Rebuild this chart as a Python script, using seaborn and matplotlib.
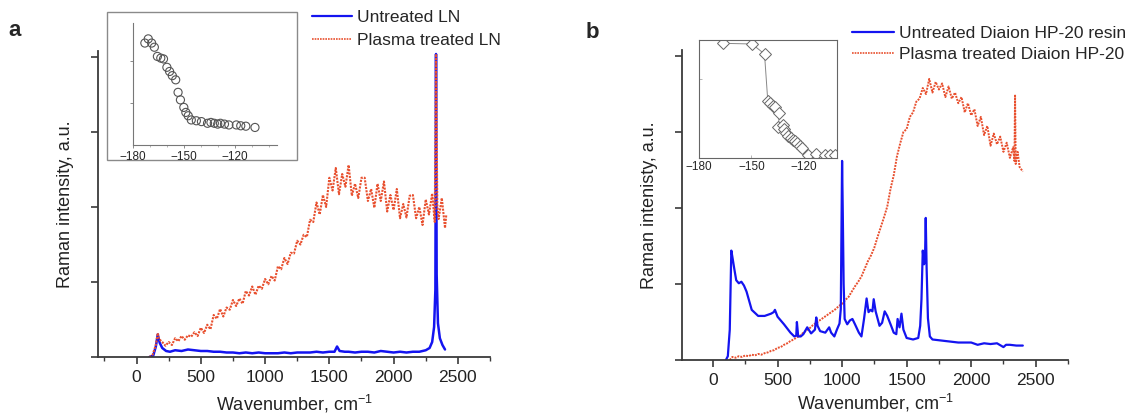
import matplotlib
matplotlib.use('Agg')
import matplotlib.pyplot as plt
import seaborn as sns
from matplotlib.patches import Rectangle
from matplotlib.ticker import MultipleLocator, FixedLocator, NullFormatter
from matplotlib.lines import Line2D

# ---------------- data: panel a ----------------
red_a_x = [100, 125, 150, 165, 175, 200, 225, 250, 275, 300,
           325, 350, 375, 400, 425, 450, 475, 500, 525, 550,
           575, 600, 625, 650, 675, 700, 725, 750, 775, 800,
           825, 850, 875, 900, 925, 950, 975, 1000, 1025, 1050,
           1075, 1100, 1125, 1150, 1175, 1200, 1225, 1250, 1275, 1300,
           1325, 1350, 1375, 1400, 1425, 1450, 1475, 1500, 1525, 1550,
           1575, 1600, 1625, 1650, 1675, 1700, 1725, 1750, 1775, 1800,
           1825, 1850, 1875, 1900, 1925, 1950, 1975, 2000, 2025, 2050,
           2075, 2100, 2125, 2150, 2175, 2200, 2225, 2250, 2275, 2300,
           2320, 2330, 2340, 2350, 2375, 2400, 2410]
red_a_y = [0.00, 0.03, 0.16, 0.32, 0.24, 0.20, 0.15, 0.20, 0.16, 0.25,
           0.21, 0.28, 0.23, 0.29, 0.27, 0.33, 0.28, 0.39, 0.32, 0.43,
           0.37, 0.56, 0.51, 0.64, 0.54, 0.66, 0.63, 0.76, 0.68, 0.78,
           0.71, 0.88, 0.82, 0.94, 0.83, 0.95, 0.91, 1.04, 0.97, 1.08,
           1.02, 1.21, 1.17, 1.32, 1.24, 1.39, 1.38, 1.55, 1.50, 1.63,
           1.60, 1.83, 1.80, 2.06, 1.90, 2.16, 2.00, 2.39, 2.22, 2.52,
           2.17, 2.44, 2.27, 2.56, 2.15, 2.31, 2.12, 2.39, 2.39, 2.08,
           2.24, 1.99, 2.31, 2.08, 2.34, 1.94, 2.16, 1.96, 2.24, 1.85,
           2.04, 1.86, 2.15, 2.16, 1.85, 2.00, 1.76, 2.10, 1.90, 2.18,
           1.80, 4.04, 2.03, 1.84, 2.12, 1.72, 1.90]

blue_a_x = [100, 130, 150, 165, 180, 200, 230, 260, 300, 350,
            400, 450, 500, 550, 600, 650, 700, 750, 800, 850,
            900, 950, 1000, 1050, 1100, 1150, 1200, 1250, 1300, 1350,
            1400, 1450, 1500, 1540, 1560, 1580, 1620, 1650, 1700, 1750,
            1800, 1850, 1900, 1950, 2000, 2050, 2100, 2150, 2200, 2250,
            2280, 2300, 2315, 2325, 2330, 2335, 2345, 2360, 2380, 2400]
blue_a_y = [0.00, 0.02, 0.14, 0.30, 0.19, 0.12, 0.08, 0.07, 0.09, 0.08,
            0.10, 0.09, 0.08, 0.08, 0.07, 0.07, 0.06, 0.06, 0.05, 0.06,
            0.05, 0.06, 0.05, 0.05, 0.05, 0.06, 0.05, 0.06, 0.06, 0.06,
            0.07, 0.06, 0.07, 0.07, 0.14, 0.08, 0.07, 0.07, 0.06, 0.07,
            0.07, 0.06, 0.08, 0.07, 0.06, 0.07, 0.06, 0.07, 0.07, 0.09,
            0.12, 0.20, 0.40, 0.90, 4.04, 1.10, 0.45, 0.25, 0.16, 0.10]

inset_a_x = [-173.0, -171.0, -169.0, -167.4, -165.6, -163.6, -162.0, -160.0, -158.4, -156.8,
             -154.8, -153.4, -152.0, -150.0, -148.8, -147.4, -145.6, -142.6, -139.6, -136.0,
             -134.0, -132.0, -130.0, -128.4, -126.0, -123.4, -119.0, -116.4, -113.4, -108.0]
inset_a_y = [2.44, 2.54, 2.44, 2.34, 2.12, 2.08, 2.06, 1.86, 1.76, 1.66,
             1.56, 1.26, 1.08, 0.90, 0.78, 0.70, 0.60, 0.58, 0.56, 0.52,
             0.54, 0.52, 0.50, 0.52, 0.50, 0.48, 0.48, 0.46, 0.45, 0.42]

# ---------------- data: panel b ----------------
blue_b_x = [100, 115, 130, 142, 150, 165, 180, 200, 220, 240,
            260, 280, 300, 350, 400, 450, 470, 480, 500, 550,
            600, 630, 645, 650, 660, 680, 700, 730, 760, 790,
            800, 810, 830, 870, 900, 915, 940, 960, 980, 990,
            1000, 1005, 1012, 1020, 1040, 1060, 1080, 1100, 1130, 1150,
            1170, 1190, 1205, 1220, 1235, 1245, 1260, 1290, 1310, 1330,
            1350, 1380, 1400, 1420, 1430, 1445, 1460, 1475, 1500, 1550,
            1590, 1605, 1615, 1625, 1635, 1642, 1648, 1655, 1665, 1680,
            1700, 1800, 1900, 2000, 2050, 2100, 2150, 2200, 2250, 2270,
            2300, 2350, 2400]
blue_b_y = [0.00, 0.05, 0.40, 1.44, 1.36, 1.20, 1.05, 1.01, 1.03, 0.98,
            0.90, 0.78, 0.66, 0.58, 0.58, 0.61, 0.63, 0.66, 0.57, 0.47,
            0.36, 0.31, 0.32, 0.50, 0.31, 0.31, 0.34, 0.43, 0.35, 0.40,
            0.56, 0.45, 0.38, 0.36, 0.43, 0.36, 0.31, 0.40, 0.48, 0.67,
            2.62, 2.00, 1.00, 0.54, 0.47, 0.52, 0.54, 0.47, 0.36, 0.31,
            0.54, 0.81, 0.63, 0.66, 0.64, 0.80, 0.64, 0.45, 0.49, 0.64,
            0.58, 0.45, 0.36, 0.34, 0.54, 0.43, 0.61, 0.40, 0.29, 0.27,
            0.29, 0.45, 0.80, 1.44, 1.26, 1.30, 1.87, 1.20, 0.55, 0.31,
            0.27, 0.25, 0.23, 0.23, 0.20, 0.22, 0.21, 0.22, 0.17, 0.20,
            0.20, 0.19, 0.19]

red_b_x = [130, 150, 175, 200, 225, 250, 275, 300, 325, 350,
           375, 400, 425, 450, 475, 500, 525, 550, 575, 600,
           625, 650, 675, 700, 725, 750, 775, 800, 825, 850,
           875, 900, 925, 950, 975, 1000, 1025, 1050, 1075, 1100,
           1125, 1150, 1175, 1200, 1225, 1250, 1275, 1300, 1325, 1350,
           1375, 1400, 1425, 1450, 1475, 1500, 1525, 1550, 1575, 1600,
           1625, 1650, 1675, 1700, 1725, 1750, 1775, 1800, 1825, 1850,
           1875, 1900, 1925, 1950, 1975, 2000, 2025, 2050, 2075, 2100,
           2125, 2150, 2175, 2200, 2225, 2250, 2275, 2300, 2325, 2335,
           2340, 2345, 2360, 2375, 2400]
red_b_y = [0.00, 0.04, 0.03, 0.05, 0.04, 0.06, 0.05, 0.07, 0.06, 0.08,
           0.07, 0.09, 0.10, 0.12, 0.13, 0.16, 0.17, 0.20, 0.22, 0.25,
           0.27, 0.30, 0.32, 0.36, 0.39, 0.42, 0.46, 0.49, 0.52, 0.55,
           0.58, 0.61, 0.64, 0.67, 0.71, 0.74, 0.79, 0.83, 0.90, 0.97,
           1.03, 1.10, 1.20, 1.30, 1.38, 1.48, 1.62, 1.75, 1.88, 2.02,
           2.25, 2.43, 2.68, 2.85, 3.00, 3.04, 3.20, 3.26, 3.40, 3.44,
           3.58, 3.50, 3.70, 3.52, 3.66, 3.56, 3.64, 3.46, 3.60, 3.44,
           3.52, 3.38, 3.46, 3.26, 3.38, 3.22, 3.30, 3.08, 3.20, 2.96,
           3.08, 2.82, 2.98, 2.84, 2.94, 2.74, 2.86, 2.66, 2.80, 2.62,
           3.48, 2.58, 2.74, 2.54, 2.48]

inset_b_x = [-166.1, -149.7, -142.5, -140.6, -139.1, -137.6, -136.3, -134.1, -134.5, -132.1,
             -131.1, -130.2, -128.9, -127.4, -126.1, -124.8, -123.7, -122.4, -120.9, -117.8,
             -113.1, -108.1, -104.8, -102.3]
inset_b_y = [3.45, 3.43, 3.13, 1.70, 1.65, 1.57, 1.53, 1.35, 0.93, 1.00,
             0.87, 0.75, 0.67, 0.60, 0.55, 0.50, 0.45, 0.37, 0.30, 0.10,
             0.13, 0.09, 0.09, 0.08]

labels_a = ["Untreated LN", "Plasma treated LN"]
labels_b = ["Untreated Diaion HP-20 resin", "Plasma treated Diaion HP-20"]
x_major = [0, 500, 1000, 1500, 2000, 2500]

# ---------------- style ----------------
sns.set_theme(style='ticks')
plt.rcParams['font.family'] = ['Liberation Sans', 'DejaVu Sans']
plt.rcParams['mathtext.fontset'] = 'custom'
plt.rcParams['mathtext.rm'] = 'Liberation Sans'
plt.rcParams['mathtext.it'] = 'Liberation Sans:italic'

BLUE = '#1414F0'
RED = '#E8502F'
AX = '#3a3a3a'
DOT = (0, (1, 0.6))

W, H = 1129, 419
fig = plt.figure(figsize=(W / 100, H / 100), dpi=100)


def px(x0, y0, x1, y1):
    return [x0 / W, 1 - y1 / H, (x1 - x0) / W, (y1 - y0) / H]


def style_main(ax, xlim, xpad):
    ax.set_xlim(*xlim)
    ax.set_ylim(0, 4.08)
    for s in ['top', 'right']:
        ax.spines[s].set_visible(False)
    for s in ['left', 'bottom']:
        ax.spines[s].set_color(AX)
        ax.spines[s].set_linewidth(1.3)
    ax.xaxis.set_major_locator(FixedLocator(x_major))
    ax.xaxis.set_minor_locator(MultipleLocator(250))
    ax.yaxis.set_major_locator(FixedLocator([0, 1, 2, 3, 4]))
    ax.yaxis.set_major_formatter(NullFormatter())
    ax.tick_params(axis='both', which='major', direction='out', length=5, width=1.2,
                   color=AX, labelsize=12.5, labelcolor='#222', pad=4)
    ax.tick_params(axis='x', which='minor', direction='out', length=3, width=1.0, color=AX)
    ax.set_xlabel(r'Wavenumber, cm$^{\mathregular{-1}}$', fontsize=13, color='#222', labelpad=xpad)


# ---------------- panel a ----------------
axa = fig.add_axes(px(98, 51, 490, 357))
sns.lineplot(x=blue_a_x, y=blue_a_y, ax=axa, color=BLUE, lw=1.8, estimator=None, sort=False)
sns.lineplot(x=red_a_x, y=red_a_y, ax=axa, color=RED, lw=1.5, linestyle=DOT,
             estimator=None, sort=False)
style_main(axa, (-300, 2750), 6)
axa.set_ylabel('Raman intensity, a.u.', fontsize=13, color='#222', labelpad=8)

# inset a frame + axes
fig.patches.append(Rectangle((107 / W, 1 - 160 / H), 190 / W, 148 / H, transform=fig.transFigure,
                             facecolor='white', edgecolor='#8a8a8a', lw=1.0, zorder=5))
ia = fig.add_axes(px(133, 23, 277, 145))
ia.set_zorder(6)
sns.scatterplot(x=inset_a_x, y=inset_a_y, ax=ia, marker='o', s=34, facecolor='none',
                edgecolor='#555555', linewidth=0.8)
ia.set_xlim(-180, -95)
ia.set_ylim(0, 2.92)
for s in ['top', 'right']:
    ia.spines[s].set_visible(False)
for s in ['left', 'bottom']:
    ia.spines[s].set_color('#777777')
    ia.spines[s].set_linewidth(0.8)
ia.xaxis.set_major_locator(FixedLocator([-180, -150, -120]))
ia.xaxis.set_minor_locator(MultipleLocator(10))
ia.yaxis.set_major_locator(FixedLocator([1, 2]))
ia.yaxis.set_major_formatter(NullFormatter())
ia.tick_params(axis='both', which='major', direction='out', length=2.5, width=0.6,
               color='#777777', labelsize=8.5, pad=2)
ia.tick_params(axis='x', which='minor', direction='out', length=1.5, width=0.5, color='#999999')
ia.set_facecolor('none')

# ---------------- panel b ----------------
axb = fig.add_axes(px(682, 50, 1068, 360))
sns.lineplot(x=red_b_x, y=red_b_y, ax=axb, color=RED, lw=1.4, linestyle=DOT,
             estimator=None, sort=False)
sns.lineplot(x=blue_b_x, y=blue_b_y, ax=axb, color=BLUE, lw=1.6, estimator=None, sort=False)
style_main(axb, (-240, 2750), 3)
axb.set_ylabel('Raman intenisty, a.u.', fontsize=13, color='#222', labelpad=8)

ib = fig.add_axes(px(699, 40, 837, 158))
ib.set_zorder(6)
sns.lineplot(x=inset_b_x, y=inset_b_y, ax=ib, color='#888888', lw=0.7, marker='D',
             markersize=6.5, markerfacecolor='white', markeredgecolor='#666666',
             markeredgewidth=0.7, estimator=None, sort=False)
ib.set_xlim(-180, -101)
ib.set_ylim(0, 3.55)
for s in ib.spines.values():
    s.set_color('#666666')
    s.set_linewidth(0.8)
ib.xaxis.set_major_locator(FixedLocator([-180, -150, -120]))
ib.yaxis.set_major_locator(FixedLocator([2.37]))
ib.yaxis.set_major_formatter(NullFormatter())
ib.tick_params(axis='both', which='major', direction='in', length=2, width=0.5,
               color='#999999', labelsize=8.5, pad=2)
ib.set_facecolor('white')

# ---------------- legends ----------------
h_blue = Line2D([], [], color=BLUE, lw=1.6)
h_red = Line2D([], [], color=RED, lw=1.2, linestyle=DOT)
fig.legend([h_blue, h_red], labels_a, loc='upper left', bbox_to_anchor=(312 / W, 1 - 10 / H),
           frameon=False, fontsize=12.5, handlelength=2.3, handletextpad=0.3,
           labelspacing=0.45, borderpad=0, borderaxespad=0)
fig.legend([h_blue, h_red], labels_b, loc='upper left', bbox_to_anchor=(852 / W, 1 - 26 / H),
           frameon=False, fontsize=12.5, handlelength=2.4, handletextpad=0.3,
           labelspacing=0.35, borderpad=0, borderaxespad=0)

# panel letters
fig.text(15 / W, 1 - 30 / H, 'a', fontsize=16, fontweight='bold', va='center', ha='center')
fig.text(592 / W, 1 - 32 / H, 'b', fontsize=16, fontweight='bold', va='center', ha='center')

fig.savefig('out.png', dpi=100)
